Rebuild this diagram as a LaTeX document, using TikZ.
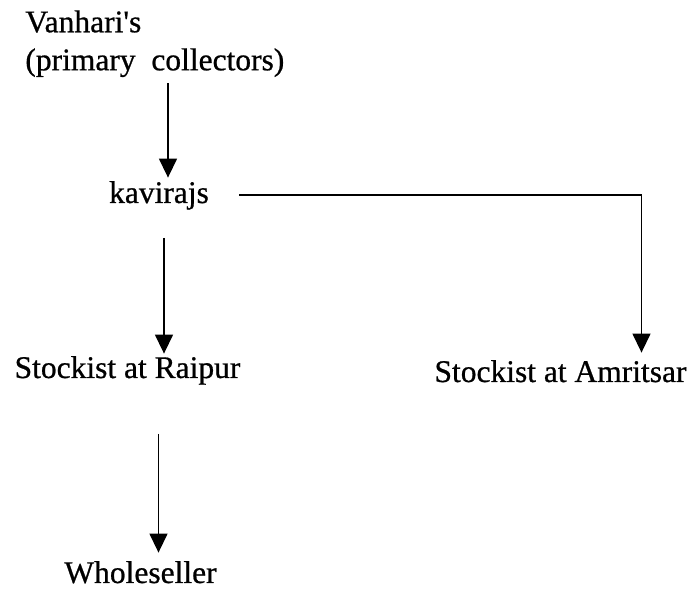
\documentclass[tikz,border=0pt]{standalone}
\usepackage{fontspec}
\setmainfont{Liberation Serif}[UprightFeatures={FakeBold=0.7}, Mapping=]
\usetikzlibrary{arrows.meta, calc}
\tikzset{
    my-label/.style={
        inner sep=0pt, text height=0.7em, text depth=0.22em,
        font=\fontsize{15.75}{19}\selectfont
    },
    my-arrow/.style={
        draw, line width=0.7pt, -{Triangle[length=9.5pt, width=9pt]}
    },
}
\begin{document}
\begin{tikzpicture}[x=0.5pt, y=-0.5pt]

        \useasboundingbox (0,0) rectangle (692,598);

        % SOURCE
        \node[inner sep=0pt, align=left, anchor=north west,
              font=\fontsize{15.75}{19}\selectfont]
              (VAN) at (25,10)   {Vanhari's\\(primary\ \ collectors)};

        % MIDDLE
        \node[my-label, anchor=base] (KAV) at (159,203)   {kavirajs};

        % STOCKISTS
        \node[my-label, anchor=base] (RAI) at (127.5,378) {Stockist at Raipur};
        \node[my-label, anchor=base] (AMR) at (560.5,382) {Stockist at Amritsar};

        % END
        \node[my-label, anchor=base] (WHO) at (140.5,583) {Wholeseller};

        % CONNECTOR POINTS
        \coordinate (VANOUT) at ($(VAN.south west) + (143, 6)$);
        \coordinate (KAVIN)  at ($(KAV.north)      + (9, -11)$);
        \coordinate (KAVOUT) at ($(KAV.south)      + (5, 30)$);
        \coordinate (KAVR)   at ($(KAV.east)       + (30, -3)$);
        \coordinate (RAIIN)  at ($(RAI.north)      + (36.5, -10)$);
        \coordinate (RAIOUT) at ($(RAI.south)      + (31, 51)$);
        \coordinate (AMRIN)  at ($(AMR.north)      + (81, -15)$);
        \coordinate (WHOIN)  at ($(WHO.north)      + (18, -16)$);

        % CONNECTIONS
        \draw[my-arrow] (VANOUT) -- (KAVIN);
        \draw[my-arrow] (KAVOUT) -- (RAIIN);
        \draw[my-arrow] (KAVR) -| (AMRIN);
        \draw[my-arrow] (RAIOUT) -- (WHOIN);

\end{tikzpicture}
\end{document}
